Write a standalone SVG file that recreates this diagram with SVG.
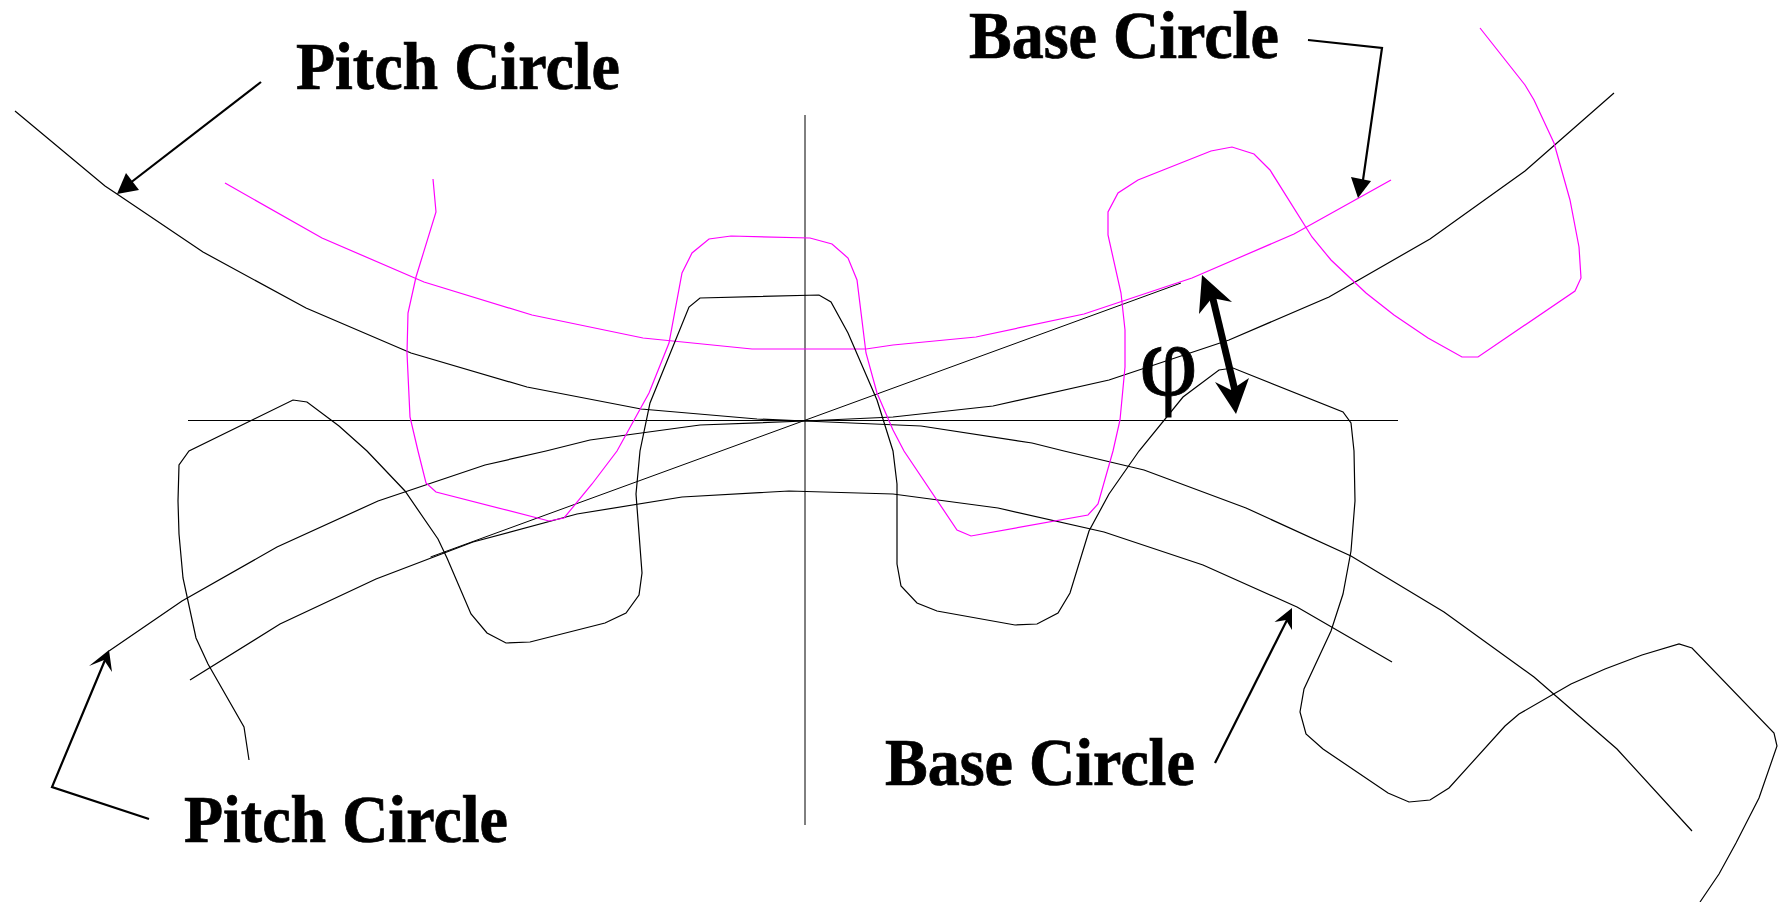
<svg xmlns="http://www.w3.org/2000/svg" width="1786" height="902" viewBox="0 0 1786 902">
<style>
.k{fill:none;stroke:#000;stroke-width:1.2}
.x{fill:none;stroke:#000;stroke-width:1}
.m{fill:none;stroke:#f0f;stroke-width:1.2}
.a{fill:none;stroke:#000;stroke-width:2.2}
.t{font-family:"Liberation Serif","Times New Roman",serif;font-weight:bold;font-size:64px;fill:#000;stroke:#000;stroke-width:.7}
</style>
<rect width="1786" height="902" fill="#fff"/>
<g id="axes">
<line class="x" x1="805" y1="115" x2="805" y2="825"/>
<line class="x" x1="188" y1="420.5" x2="1398" y2="420.5"/>
<line class="x" x1="430.5" y1="557" x2="1181" y2="283"/>
</g>
<g id="upper-gear-pitch-circle"><polyline class="k" points="15,111 105,186 117,194 203,252 306,308 411,353 527,387 641,409 757,419 805,421 921,426 1032,443 1064,451 1144,470 1246,508 1351,556 1444,612 1534,677 1617,749 1692,831"/></g>
<g id="lower-gear-pitch-circle"><polyline class="k" points="109,651 182,601 277,547 378,501 485,465 546,451 590,440 700,425 805,421 893,417 993,406 1109,380 1229,340 1329,297 1430,239 1525,171 1614,93"/></g>
<g id="lower-base-circle"><polyline class="k" points="190,680 280,624 376,579 473,542 577,514 682,497 789,491 893,494 998,508 1104,532 1203,565 1297,607 1392,662"/></g>
<g id="upper-base-circle"><polyline class="m" points="225,183 322,238 424,282 532,315 643,338 752,349 866,349 893,345 976,337 1084,314 1192,278 1294,234 1391,180"/></g>
<g id="magenta-teeth"><polyline class="m" points="433,179 436,212 416,277 408,313 407,353 410,417 418,451 426,483 436,492 549,521 564,518 592,484 617,451 649,393 669,343 682,273 692,253 709,239 731,236 810,238 832,244 848,258 857,280 866,353 877,393 893,430 904,451 957,530 971,536 1088,515 1098,504 1113,451 1120,420 1125,367 1125,330 1121,293 1108,235 1108,212 1118,193 1138,180 1211,151 1232,147 1254,154 1270,170 1312,237 1331,260 1366,293 1394,315 1428,338 1462,357 1478,357 1575,291 1581,278 1579,247 1570,200 1554,143 1534,100 1525,85 1480,28"/></g>
<g id="black-teeth"><polyline class="k" points="249,760 244,727 208,664 196,638 183,578 179,534 178,501 179,465 189,451 293,400 307,402 339,426 367,451 405,491 438,539 447,558 471,614 487,633 506,643 530,642 605,623 626,613 639,595 642,573 636,494 640,451 650,403 689,307 700,298 819,295 831,302 848,333 877,400 893,451 897,484 897,564 901,586 917,603 937,611 1015,625 1037,624 1058,613 1070,593 1089,531 1109,494 1139,451 1183,397 1219,370 1233,368 1343,412 1351,423 1354,451 1355,501 1351,551 1343,594 1331,631 1304,689 1300,712 1306,734 1323,749 1388,793 1409,802 1430,800 1449,788 1505,726 1519,714 1571,684 1605,669 1642,655 1679,644 1692,648 1774,733 1777,746 1759,798 1736,843 1719,874 1700,902"/></g>
<g id="connectors">
<line class="a" x1="261" y1="82" x2="125" y2="187"/>
<polygon points="117,194 126,173 139,190"/>
<polyline class="a" points="1308,40 1382,48 1363,180"/>
<polygon points="1358,198 1351,177 1371,181"/>
<polyline class="a" points="149,819 52,787 105,660"/>
<polygon points="109,650 89,666 104,660 112,672"/>
<line class="a" x1="1215" y1="763" x2="1287" y2="620"/>
<polygon points="1292,608 1274.5,622 1286,620 1292,630"/>
<line x1="1212" y1="295" x2="1236" y2="395" stroke="#000" stroke-width="7"/>
<polygon points="1202,275 1199,314 1212,298 1232,302"/>
<polygon points="1236,414 1215,382 1231,390 1249,378"/>
</g>
<g id="labels">
<text class="t" transform="translate(296 89) scale(1 1.07)">Pitch Circle</text>
<text class="t" transform="translate(969 58) scale(1 1.07)">Base Circle</text>
<text class="t" transform="translate(184 842) scale(1 1.07)">Pitch Circle</text>
<text class="t" transform="translate(885 785) scale(1 1.07)">Base Circle</text>
<text x="1139" y="395" font-family="Liberation Serif, serif" font-size="102" stroke="#000" stroke-width=".8">φ</text>
</g>
</svg>
